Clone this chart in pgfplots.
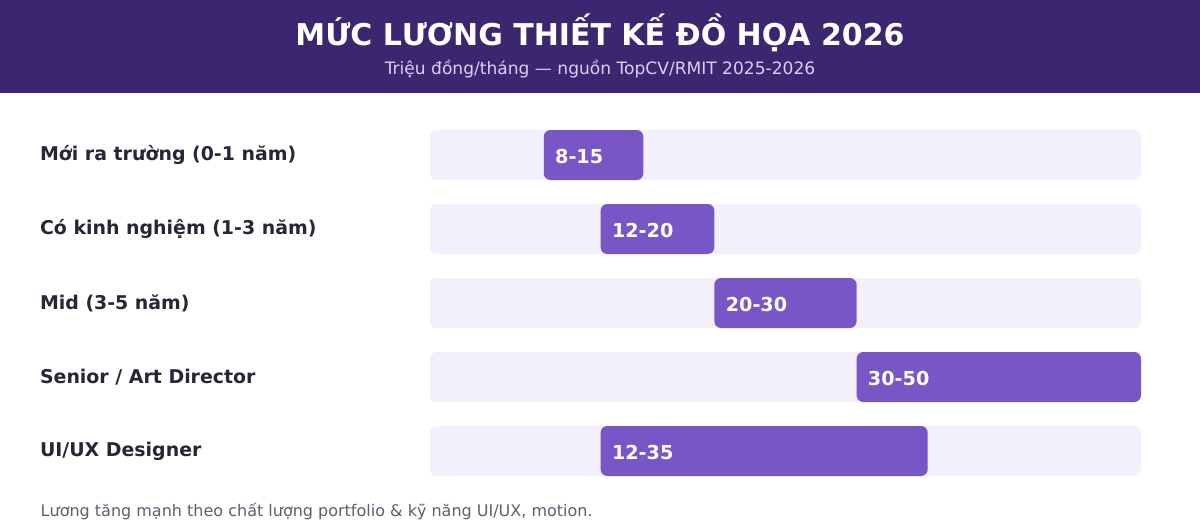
\documentclass[border=0pt]{standalone}
\usepackage{pgfplots}
\pgfplotsset{compat=1.18}
\usepackage{pgfplotstable}
\usepackage{fontspec}
\setmainfont{DejaVu Sans}

\definecolor{banner}{HTML}{3C2670}
\definecolor{subt}{HTML}{D8D0F0}
\definecolor{barc}{HTML}{7856C6}
\definecolor{track}{HTML}{F3F0FB}
\definecolor{lbl}{HTML}{2A2535}
\definecolor{foot}{HTML}{625C70}

% salary ranges, million VND / month
\pgfplotstableread{
y lo hi label
0 8  15 8-15
1 12 20 12-20
2 20 30 20-30
3 30 50 30-50
4 12 35 12-35
}\salary

\begin{document}
\begin{tikzpicture}[x=0.75pt,y=0.75pt]
% page + header band
\fill[white] (0,0) rectangle (1200,520);
\fill[banner] (0,427) rectangle (1200,520);
\node[text=white,font=\bfseries\fontsize{22.5}{26}\selectfont] at (600,487) {MỨC LƯƠNG THIẾT KẾ ĐỒ HỌA 2026};
\node[text=subt,font=\fontsize{12.8}{15}\selectfont] at (600,451) {Triệu đồng/tháng — nguồn TopCV/RMIT 2025-2026};

\pgfplotsset{rangeaxis/.style={
    at={(322.5pt,24pt)}, anchor=south west,
    scale only axis, width=533.25pt, height=277.5pt,
    xmin=0, xmax=50, ymin=-0.5, ymax=4.5, y dir=reverse,
    axis line style={draw=none}, major tick length=0pt,
    xtick=\empty, clip=false,
}}

% background tracks and row names
\begin{axis}[rangeaxis,
    ytick={0,1,2,3,4},
    yticklabels={Mới ra trường (0-1 năm),Có kinh nghiệm (1-3 năm),Mid (3-5 năm),Senior / Art Director,UI/UX Designer},
    yticklabel style={anchor=west, xshift=-296pt, text=lbl, font=\bfseries\fontsize{14.2}{16}\selectfont},
]
\addplot[xbar, bar width=37.5pt, fill=track, draw=none, rounded corners=5pt]
  coordinates {(50,0) (50,1) (50,2) (50,3) (50,4)};
\end{axis}

% floating salary bars
\begin{axis}[rangeaxis, ytick=\empty, xbar stacked, bar width=37.5pt]
\addplot[fill=none, draw=none] table[x=lo, y=y] {\salary};
\addplot[fill=barc, draw=none, rounded corners=5pt] table[x expr=\thisrow{hi}-\thisrow{lo}, y=y] {\salary};
\end{axis}

% range labels at the start of each bar
\begin{axis}[rangeaxis, ytick=\empty]
\addplot[draw=none, mark=none, nodes near coords, point meta=explicit symbolic,
  nodes near coords style={anchor=west, xshift=5pt, yshift=-1pt, text=white,
    font=\bfseries\fontsize{14.4}{16}\selectfont}]
  table[x=lo, y=y, meta=label] {\salary};
\end{axis}

\node[anchor=west, text=foot, font=\fontsize{12}{14}\selectfont] at (36,9) {Lương tăng mạnh theo chất lượng portfolio \& kỹ năng UI/UX, motion.};
\end{tikzpicture}
\end{document}
